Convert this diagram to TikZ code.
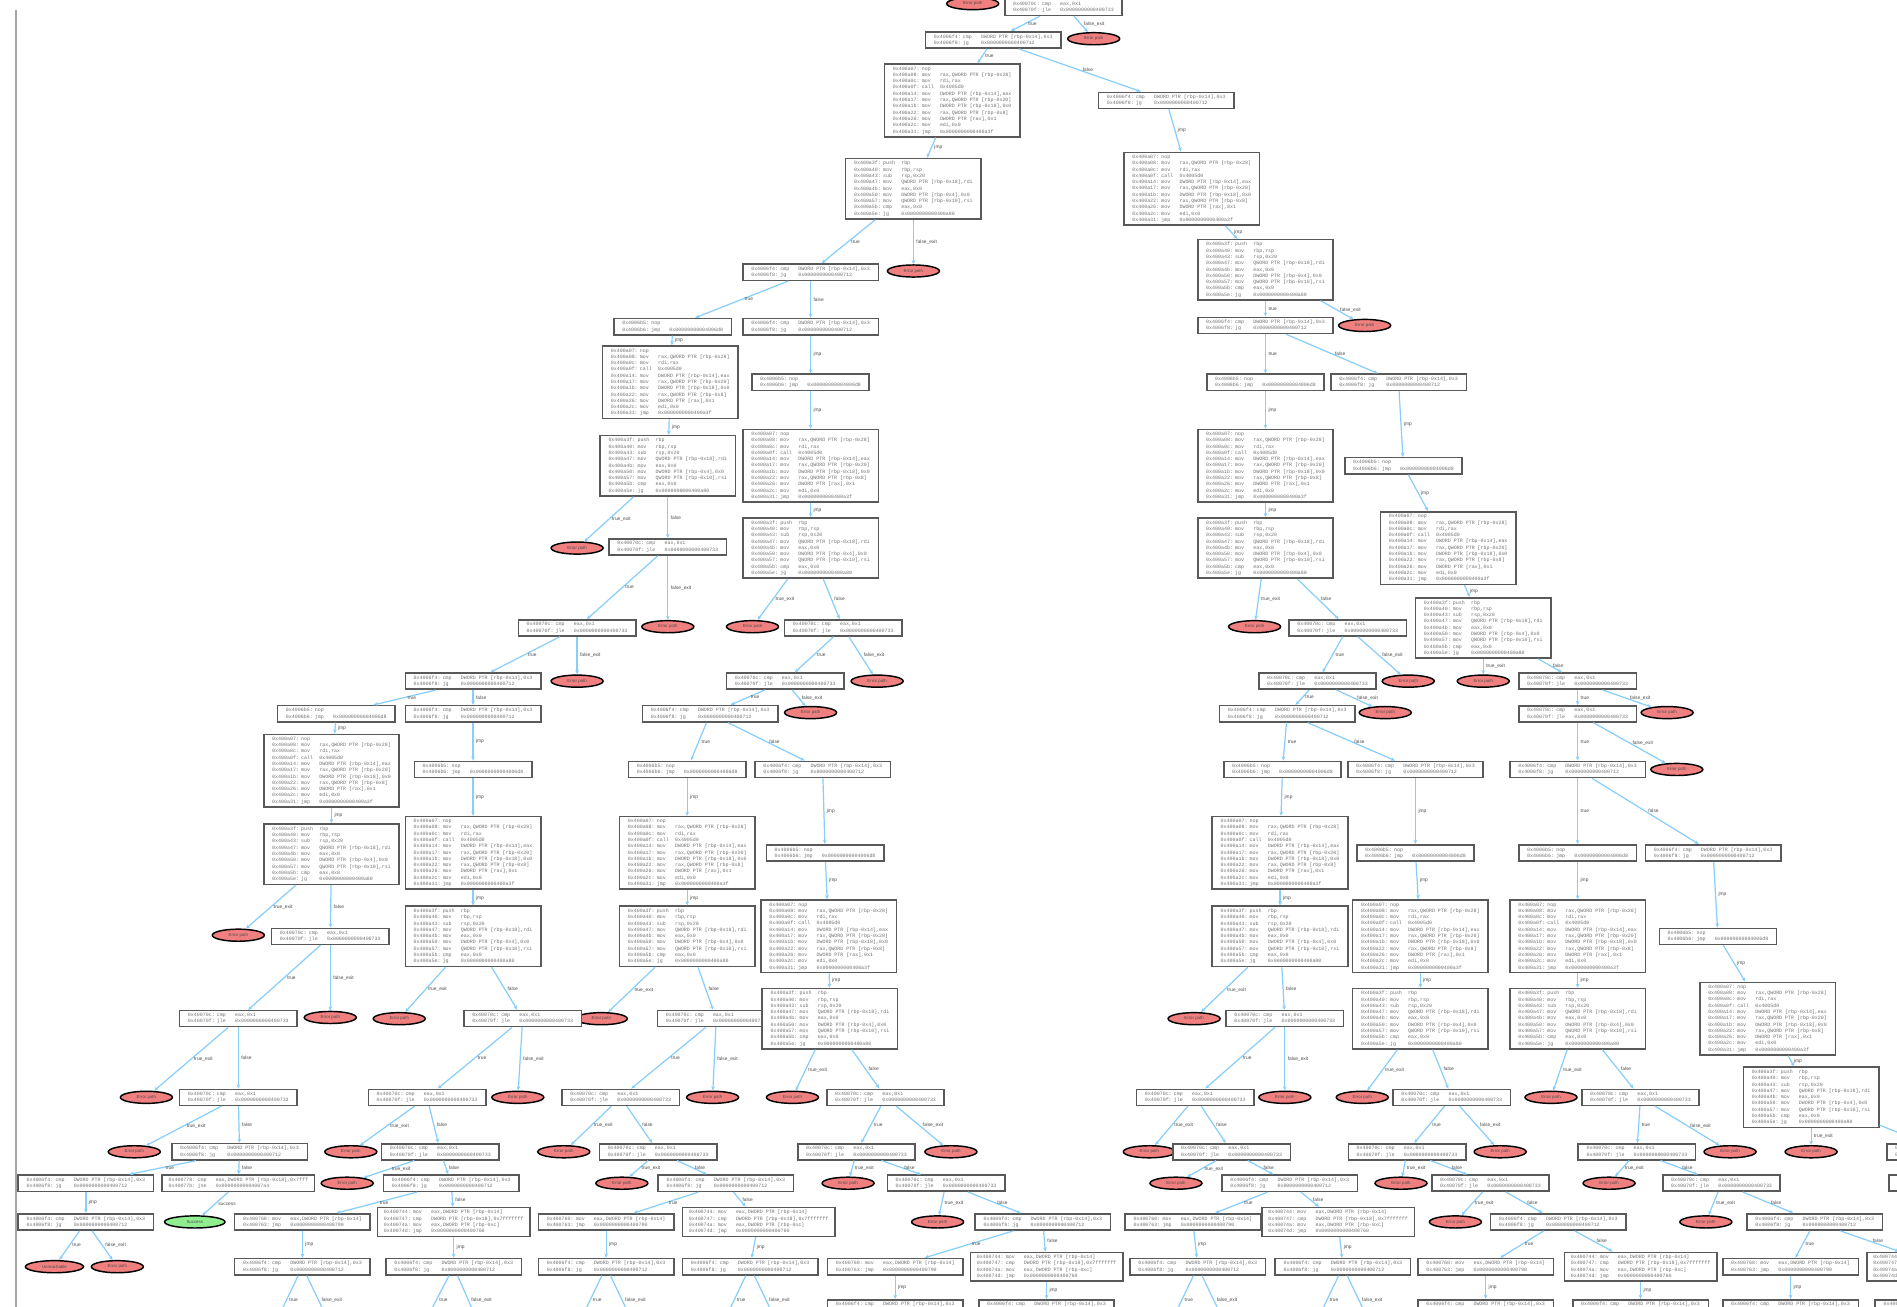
\documentclass[tikz,border=0pt]{standalone}
\usepackage{fontspec}
\setmainfont{Liberation Sans}
\setsansfont{Liberation Sans}
\setmonofont{Liberation Mono}
\usetikzlibrary{arrows.meta,shapes.geometric}
\definecolor{edgeblue}{RGB}{135,206,250}
\definecolor{errred}{RGB}{240,128,128}
\definecolor{okgreen}{RGB}{144,238,144}
\newcommand\ins[3]{\makebox[24pt][l]{#1:}\makebox[15pt][l]{#2}#3}
\newcommand\txA{\ins{0x4006b5}{nop}{}\\\ins{0x4006b6}{jmp}{0x00000000004006d8}}
\newcommand\txB{\ins{0x40070c}{cmp}{eax,0x1}\\\ins{0x40070f}{jle}{0x0000000000400733}}
\newcommand\txC{\ins{0x4006f4}{cmp}{DWORD PTR [rbp-0x14],0x3}\\\ins{0x4006f8}{jg}{0x0000000000400712}}
\newcommand\txG{\ins{0x400760}{mov}{eax,DWORD PTR [rbp-0x14]}\\\ins{0x400763}{jmp}{0x0000000000400790}}
\newcommand\txH{\ins{0x400778}{cmp}{eax,DWORD PTR [rbp-0x18],0x7fff}\\\ins{0x40077b}{jne}{0x00000000004007a4}}
\newcommand\txD{\ins{0x400744}{mov}{eax,DWORD PTR [rbp-0x14]}\\\ins{0x400747}{cmp}{DWORD PTR [rbp-0x18],0x7fffffff}\\\ins{0x40074a}{mov}{eax,DWORD PTR [rbp-0xc]}\\\ins{0x40074d}{jmp}{0x0000000000400760}}
\newcommand\txE{\ins{0x400a07}{nop}{}\\\ins{0x400a08}{mov}{rax,QWORD PTR [rbp-0x28]}\\\ins{0x400a0c}{mov}{rdi,rax}\\\ins{0x400a0f}{call}{0x4005d0}\\\ins{0x400a14}{mov}{DWORD PTR [rbp-0x14],eax}\\\ins{0x400a17}{mov}{rax,QWORD PTR [rbp-0x20]}\\\ins{0x400a1b}{mov}{DWORD PTR [rbp-0x18],0x0}\\\ins{0x400a22}{mov}{rax,QWORD PTR [rbp-0x8]}\\\ins{0x400a26}{mov}{DWORD PTR [rax],0x1}\\\ins{0x400a2c}{mov}{edi,0x0}\\\ins{0x400a31}{jmp}{0x0000000000400a3f}}
\newcommand\txF{\ins{0x400a3f}{push}{rbp}\\\ins{0x400a40}{mov}{rbp,rsp}\\\ins{0x400a43}{sub}{rsp,0x20}\\\ins{0x400a47}{mov}{QWORD PTR [rbp-0x18],rdi}\\\ins{0x400a4b}{mov}{eax,0x0}\\\ins{0x400a50}{mov}{DWORD PTR [rbp-0x4],0x0}\\\ins{0x400a57}{mov}{QWORD PTR [rbp-0x10],rsi}\\\ins{0x400a5b}{cmp}{eax,0x0}\\\ins{0x400a5e}{jg}{0x0000000000400a80}}
\newcommand\edg[3]{\draw[edge] (#1) -- node[lbl]{#3} (#2);}
\newcommand\TEX{true\_exit}
\newcommand\FEX{false\_exit}
\begin{document}
\begin{tikzpicture}[x=1pt,y=-1pt,
  box/.style={draw=black!65, line width=1.3pt, fill=white, rectangle, align=left,
    font=\fontsize{4.1}{5.2}\selectfont\ttfamily, text=black!55, inner xsep=4.5pt, inner ysep=2.2pt},
  nar/.style={box, minimum width=97pt},
  wid/.style={box, minimum width=112pt},
  dbl/.style={box, minimum width=126pt},
  err/.style={ellipse, draw=black, line width=1.2pt, fill=errred, minimum width=43pt, minimum height=10pt,
    inner sep=0pt, text=black!70, font=\fontsize{3.6}{4}\selectfont\sffamily},
  okay/.style={err, fill=okgreen, minimum width=50pt},
  edge/.style={draw=edgeblue, line width=1pt, -{Stealth[length=3.5pt,width=3pt]}},
  lbl/.style={font=\fontsize{4}{4.5}\selectfont\sffamily, text=black!70, inner sep=1pt, anchor=west, pos=0.5, xshift=1pt}]
\useasboundingbox (0,0) rectangle (1568,1080);
\fill[white] (0,0) rectangle (1568,1080);
\draw[black!35, line width=1.5pt] (13,8) -- (13,1080);

% ---- top ----
\node[err] (r0) at (804,3) {Error path};
\node[nar] (t0) at (879,3.5) {\ins{0x4005f0}{mov}{eax,0x0}\\\txB};
\node[wid] (n1) at (821,33) {\txC};
\node[err] (r1) at (904,32) {Error path};
\node[wid] (n2) at (787,83) {\txE};
\node[wid] (n3) at (964,83) {\txC};
\node[wid] (n4) at (755,156) {\txF};
\node[err] (r2) at (755,224) {Error path};
\node[wid] (n5) at (670,225) {\txC};
\node[nar] (n6) at (556,270) {\txA};
\node[wid] (n7) at (670,270) {\txC};
\node[wid] (n8) at (554,316) {\txE};
\node[wid] (n9) at (552,385) {\txF};
\node[nar] (n10) at (670,316) {\txA};
\node[wid] (n11) at (670,385) {\txE};
\node[wid] (n12) at (670,453) {\txF};
\node[err] (r3) at (477,453) {Error path};
\node[nar] (n13) at (552,452) {\txB};
\node[nar] (n14) at (477,519) {\txB};
\node[err] (r4) at (552,518) {Error path};
\node[err] (r5) at (622,518) {Error path};
\node[nar] (n15) at (697,519) {\txB};
\node[nar] (n16) at (649,563) {\txB};
\node[err] (r6) at (725,563) {Error path};
\node[wid] (n17) at (587,590) {\txC};
\node[err] (r7) at (670,589) {Error path};
\node[nar] (n18) at (568,636) {\txA};
\node[wid] (n19) at (680,636) {\txC};
\node[wid] (n20) at (568,705) {\txE};
\node[wid] (n21) at (568,774) {\txF};
\node[err] (r8) at (497,842) {Error path};
\node[nar] (n22) at (592,842) {\txB};
\node[nar] (n23) at (513,907) {\txB};
\node[err] (r9) at (589,907) {Error path};
\node[err] (r10) at (466,952) {Error path};
\node[nar] (n24) at (544,952) {\txB};
\node[err] (r11) at (514,978) {Error path};
\node[wid] (n25) at (600,978) {\txC};
\node[wid] (n26) at (501,1010) {\txG};
\node[dbl] (n27) at (627,1010) {\txD};
\node[wid] (n28) at (501,1047) {\txC};
\node[wid] (n29) at (620,1047) {\txC};
\coordinate (d1) at (478,1095); \coordinate (d2) at (524,1095);
\coordinate (d3) at (597,1095); \coordinate (d4) at (643,1095);

% ---- left ----
\node[wid] (n30) at (391,563) {\txC};
\node[err] (r12) at (477,563) {Error path};
\node[nar] (n31) at (278,590) {\txA};
\node[wid] (n32) at (391,590) {\txC};
\node[wid] (n33) at (274,637) {\txE};
\node[wid] (n34) at (274,706) {\txF};
\node[err] (r13) at (197,773) {Error path};
\node[nar] (n35) at (273,774) {\txB};
\node[nar] (n36) at (197,842) {\txB};
\node[err] (r14) at (273,841) {Error path};
\node[err] (r15) at (121,907) {Error path};
\node[nar] (n37) at (197,907) {\txB};
\node[err] (r16) at (111,952) {Error path};
\node[wid] (n38) at (198,952) {\txC};
\node[wid] (n39) at (71,978) {\txC};
\node[dbl] (n40) at (197,978) {\txH};
\node[wid] (n41) at (71,1010) {\txC};
\node[err, minimum width=48pt] (r17) at (45,1047) {Unreachable};
\node[err] (r18) at (97,1047) {Error path};
\node[okay] (g1) at (161,1010) {Success};
\node[nar] (n42) at (391,636) {\txA};
\node[wid] (n43) at (391,705) {\txE};
\node[wid] (n44) at (391,774) {\txF};
\node[err] (r19) at (330,842) {Error path};
\node[nar] (n45) at (432,842) {\txB};
\node[nar] (n46) at (353,907) {\txB};
\node[err] (r20) at (428,907) {Error path};
\node[err] (r21) at (290,952) {Error path};
\node[nar] (n47) at (364,952) {\txB};
\node[err] (r22) at (287,978) {Error path};
\node[wid] (n48) at (373,978) {\txC};
\node[wid] (n49) at (250,1010) {\txG};
\node[dbl] (n50) at (375,1010) {\txD};
\node[wid] (n51) at (250,1047) {\txC};
\node[wid] (n52) at (375,1047) {\txC};
\coordinate (d5) at (227,1095); \coordinate (d6) at (273,1095);
\coordinate (d7) at (350,1095); \coordinate (d8) at (396,1095);

% ---- middle right ----
\node[nar] (n53) at (682,705) {\txA};
\node[wid] (n54) at (685,774) {\txE};
\node[wid] (n55) at (686,842) {\txF};
\node[err] (r23) at (655,907) {Error path};
\node[nar] (n56) at (732,907) {\txB};
\node[nar] (n57) at (708,952) {\txB};
\node[err] (r24) at (786,952) {Error path};
\node[err] (r25) at (701,978) {Error path};
\node[nar] (n58) at (782,978) {\txB};
\node[err] (r26) at (775,1010) {Error path};
\node[wid] (n59) at (862,1010) {\txC};
\node[wid] (n60) at (740,1047) {\txG};
\node[dbl] (n61) at (865,1047) {\txD};
\node[wid] (n62) at (740,1081) {\txC};
\node[wid] (n63) at (865,1081) {\txC};

% ---- right ----
\node[wid] (n64) at (985,156) {\txE};
\node[wid] (n65) at (1046,223) {\txF};
\node[wid] (n66) at (1046,269) {\txC};
\node[err] (r27) at (1128,269) {Error path};
\node[nar] (n67) at (1046,316) {\txA};
\node[wid] (n68) at (1156,316) {\txC};
\node[wid] (n69) at (1046,385) {\txE};
\node[wid] (n70) at (1046,453) {\txF};
\node[err] (r28) at (1037,518) {Error path};
\node[nar] (n71) at (1114,519) {\txB};
\node[nar] (n72) at (1089,563) {\txB};
\node[err] (r29) at (1164,563) {Error path};
\node[wid] (n73) at (1064,590) {\txC};
\node[err] (r30) at (1145,589) {Error path};
\node[nar] (n74) at (1060,636) {\txA};
\node[wid] (n75) at (1170,636) {\txC};
\node[wid] (n76) at (1058,705) {\txE};
\node[wid] (n77) at (1058,774) {\txF};
\node[err] (r31) at (987,842) {Error path};
\node[nar] (n78) at (1062,842) {\txB};
\node[nar] (n79) at (988,907) {\txB};
\node[err] (r32) at (1062,907) {Error path};
\node[err] (r33) at (950,952) {Error path};
\node[nar] (n80) at (1018,952) {\txB};
\node[err] (r34) at (972,978) {Error path};
\node[wid] (n81) at (1066,978) {\txC};
\node[wid] (n82) at (986,1010) {\txG};
\node[dbl] (n83) at (1106,1010) {\txD};
\node[wid] (n84) at (990,1047) {\txC};
\node[wid] (n85) at (1110,1047) {\txC};
\coordinate (d9) at (967,1095); \coordinate (d10) at (1013,1095);
\coordinate (d11) at (1087,1095); \coordinate (d12) at (1133,1095);
\node[nar] (n86) at (1170,705) {\txA};
\node[wid] (n87) at (1174,774) {\txE};
\node[wid] (n88) at (1174,842) {\txF};
\node[err] (r35) at (1126,907) {Error path};
\node[nar] (n89) at (1200,907) {\txB};
\node[nar] (n90) at (1163,952) {\txB};
\node[err] (r36) at (1240,952) {Error path};
\node[err] (r37) at (1158,978) {Error path};
\node[nar] (n91) at (1232,978) {\txB};
\node[err] (r38) at (1203,1010) {Error path};
\node[wid] (n92) at (1288,1010) {\txC};
\node[wid] (n93) at (1228,1047) {\txG};
\node[dbl] (n94) at (1356,1047) {\txD};
\node[wid] (n95) at (1228,1081) {\txC};
\node[wid] (n96) at (1356,1081) {\txC};

% ---- far right ----
\node[nar] (n97) at (1160,385) {\txA};
\node[wid] (n98) at (1197,453) {\txE};
\node[wid] (n99) at (1226,519) {\txF};
\node[err] (r39) at (1226,563) {Error path};
\node[nar] (n100) at (1304,563) {\txB};
\node[nar] (n101) at (1304,590) {\txB};
\node[err] (r40) at (1378,589) {Error path};
\node[wid] (n102) at (1304,636) {\txC};
\node[err] (r41) at (1386,636) {Error path};
\node[nar] (n103) at (1304,705) {\txA};
\node[wid] (n104) at (1416,705) {\txC};
\node[wid] (n105) at (1304,774) {\txE};
\node[wid] (n106) at (1304,842) {\txF};
\node[err] (r42) at (1282,907) {Error path};
\node[nar] (n107) at (1356,907) {\txB};
\node[nar] (n108) at (1353,952) {\txB};
\node[err] (r43) at (1430,952) {Error path};
\node[err] (r44) at (1330,978) {Error path};
\node[nar] (n109) at (1423,978) {\txB};
\node[err] (r45) at (1410,1010) {Error path};
\node[wid] (n110) at (1500,1010) {\txC};
\node[wid] (n111) at (1480,1047) {\txG};
\node[dbl] (n112) at (1606,1047) {\txD};
\node[wid] (n117) at (1480,1081) {\txC};
\node[wid] (n118) at (1606,1081) {\txC};
\node[nar] (n113) at (1420,774) {\txA};
\node[wid] (n114) at (1461,842) {\txE};
\node[wid] (n115) at (1497,907) {\txF};
\node[err] (r46) at (1497,952) {Error path};
\node[nar] (n116) at (1608,952) {\txB};
\node[nar] (n119) at (1610,978) {\txB};

% ---- edges ----
\edg{t0}{n1}{true} \edg{t0}{r1}{\FEX}
\edg{n1}{n2}{true} \edg{n1}{n3}{false}
\edg{n2}{n4}{jmp}
\edg{n4}{n5}{true} \edg{n4}{r2}{\FEX}
\edg{n5}{n6}{true} \edg{n5}{n7}{false}
\edg{n6}{n8}{jmp} \edg{n8}{n9}{jmp}
\edg{n7}{n10}{jmp} \edg{n10}{n11}{jmp} \edg{n11}{n12}{jmp}
\edg{n9}{r3}{\TEX} \edg{n9}{n13}{false}
\edg{n13}{n14}{true} \edg{n13}{r4}{\FEX}
\edg{n12}{r5}{\TEX} \edg{n12}{n15}{false}
\edg{n15}{n16}{true} \edg{n15}{r6}{\FEX}
\edg{n16}{n17}{true} \edg{n16}{r7}{\FEX}
\edg{n17}{n18}{true} \edg{n17}{n19}{false}
\edg{n18}{n20}{jmp} \edg{n20}{n21}{jmp}
\edg{n21}{r8}{\TEX} \edg{n21}{n22}{false}
\edg{n22}{n23}{true} \edg{n22}{r9}{\FEX}
\edg{n23}{r10}{\TEX} \edg{n23}{n24}{false}
\edg{n24}{r11}{\TEX} \edg{n24}{n25}{false}
\edg{n25}{n26}{true} \edg{n25}{n27}{false}
\edg{n26}{n28}{jmp} \edg{n27}{n29}{jmp}
\edg{n28}{d1}{true} \edg{n28}{d2}{\FEX} \edg{n29}{d3}{true} \edg{n29}{d4}{\FEX}
\edg{n14}{n30}{true} \edg{n14}{r12}{\FEX}
\edg{n30}{n31}{true} \edg{n30}{n32}{false}
\edg{n31}{n33}{jmp} \edg{n33}{n34}{jmp}
\edg{n34}{r13}{\TEX} \edg{n34}{n35}{false}
\edg{n35}{n36}{true} \edg{n35}{r14}{\FEX}
\edg{n36}{r15}{\TEX} \edg{n36}{n37}{false}
\edg{n37}{r16}{\TEX} \edg{n37}{n38}{false}
\edg{n38}{n39}{true} \edg{n38}{n40}{false}
\edg{n39}{n41}{jmp}
\edg{n41}{r17}{true} \edg{n41}{r18}{\FEX}
\edg{n40}{g1}{success}
\edg{n32}{n42}{jmp} \edg{n42}{n43}{jmp} \edg{n43}{n44}{jmp}
\edg{n44}{r19}{\TEX} \edg{n44}{n45}{false}
\edg{n45}{n46}{true} \edg{n45}{r20}{\FEX}
\edg{n46}{r21}{\TEX} \edg{n46}{n47}{false}
\edg{n47}{r22}{\TEX} \edg{n47}{n48}{false}
\edg{n48}{n49}{true} \edg{n48}{n50}{false}
\edg{n49}{n51}{jmp} \edg{n50}{n52}{jmp}
\edg{n51}{d5}{true} \edg{n51}{d6}{\FEX} \edg{n52}{d7}{true} \edg{n52}{d8}{\FEX}
\edg{n19}{n53}{jmp} \edg{n53}{n54}{jmp} \edg{n54}{n55}{jmp}
\edg{n55}{r23}{\TEX} \edg{n55}{n56}{false}
\edg{n56}{n57}{true} \edg{n56}{r24}{\FEX}
\edg{n57}{r25}{\TEX} \edg{n57}{n58}{false}
\edg{n58}{r26}{\TEX} \edg{n58}{n59}{false}
\edg{n59}{n60}{true} \edg{n59}{n61}{false}
\edg{n60}{n62}{jmp} \edg{n61}{n63}{jmp}
\edg{n3}{n64}{jmp} \edg{n64}{n65}{jmp}
\edg{n65}{n66}{true} \edg{n65}{r27}{\FEX}
\edg{n66}{n67}{true} \edg{n66}{n68}{false}
\edg{n67}{n69}{jmp} \edg{n69}{n70}{jmp}
\edg{n70}{r28}{\TEX} \edg{n70}{n71}{false}
\edg{n71}{n72}{true} \edg{n71}{r29}{\FEX}
\edg{n72}{n73}{true} \edg{n72}{r30}{\FEX}
\edg{n73}{n74}{true} \edg{n73}{n75}{false}
\edg{n74}{n76}{jmp} \edg{n76}{n77}{jmp}
\edg{n77}{r31}{\TEX} \edg{n77}{n78}{false}
\edg{n78}{n79}{true} \edg{n78}{r32}{\FEX}
\edg{n79}{r33}{\TEX} \edg{n79}{n80}{false}
\edg{n80}{r34}{\TEX} \edg{n80}{n81}{false}
\edg{n81}{n82}{true} \edg{n81}{n83}{false}
\edg{n82}{n84}{jmp} \edg{n83}{n85}{jmp}
\edg{n84}{d9}{true} \edg{n84}{d10}{\FEX} \edg{n85}{d11}{true} \edg{n85}{d12}{\FEX}
\edg{n75}{n86}{jmp} \edg{n86}{n87}{jmp} \edg{n87}{n88}{jmp}
\edg{n88}{r35}{\TEX} \edg{n88}{n89}{false}
\edg{n89}{n90}{true} \edg{n89}{r36}{\FEX}
\edg{n90}{r37}{\TEX} \edg{n90}{n91}{false}
\edg{n91}{r38}{\TEX} \edg{n91}{n92}{false}
\edg{n92}{n93}{true} \edg{n92}{n94}{false}
\edg{n93}{n95}{jmp} \edg{n94}{n96}{jmp}
\edg{n68}{n97}{jmp} \edg{n97}{n98}{jmp} \edg{n98}{n99}{jmp}
\edg{n99}{r39}{\TEX} \edg{n99}{n100}{false}
\edg{n100}{n101}{true} \edg{n100}{r40}{\FEX}
\edg{n101}{n102}{true} \edg{n101}{r41}{\FEX}
\edg{n102}{n103}{true} \edg{n102}{n104}{false}
\edg{n103}{n105}{jmp} \edg{n105}{n106}{jmp}
\edg{n106}{r42}{\TEX} \edg{n106}{n107}{false}
\edg{n107}{n108}{true} \edg{n107}{r43}{\FEX}
\edg{n108}{r44}{\TEX} \edg{n108}{n109}{false}
\edg{n109}{r45}{\TEX} \edg{n109}{n110}{false}
\edg{n110}{n111}{true} \edg{n110}{n112}{false}
\edg{n111}{n117}{jmp} \edg{n112}{n118}{jmp}
\edg{n104}{n113}{jmp} \edg{n113}{n114}{jmp} \edg{n114}{n115}{jmp}
\edg{n115}{r46}{\TEX} \edg{n115}{n116}{false}
\edg{n116}{n119}{true}
\end{tikzpicture}
\end{document}
